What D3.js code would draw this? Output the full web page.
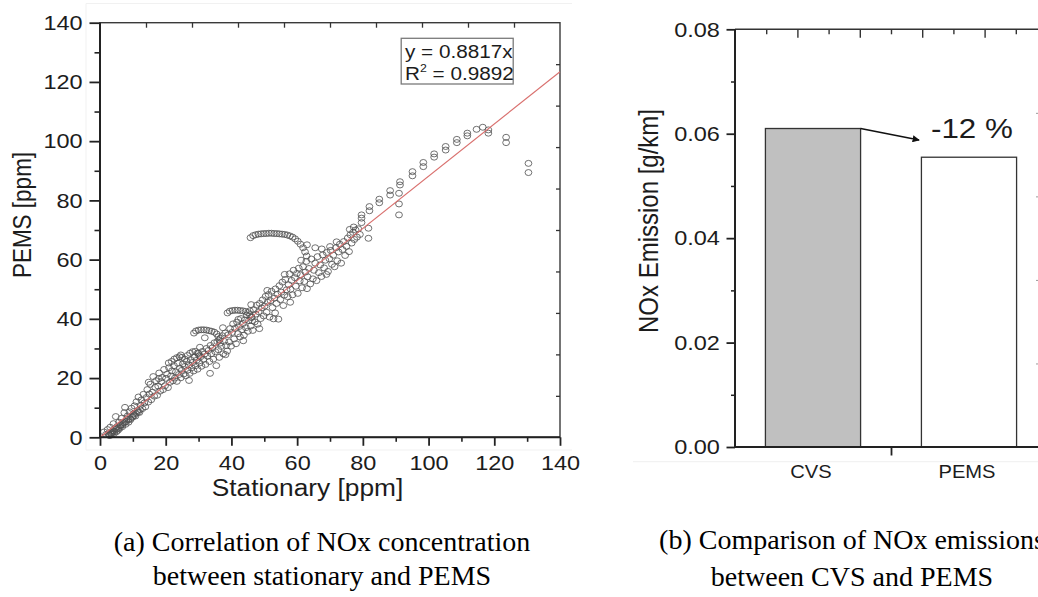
<!DOCTYPE html>
<html>
<head>
<meta charset="utf-8">
<script src="https://cdn.jsdelivr.net/npm/d3@7"></script>
<style>
  body { margin: 0; background: #fff; }
  svg { display: block; }
  text { font-family: "Liberation Sans", Arial, sans-serif; fill: #1c1c1c; }
  .cap { font-family: "Liberation Serif", "Times New Roman", serif; fill: #000; }
</style>
</head>
<body>
<svg id="fig" width="1038" height="597"></svg>
<script>
// ---------- panel (a): NOx concentration, stationary vs PEMS [ppm] ----------
const bandPoints = [
  [1.2,1.8],[1.8,0.9],[2.3,2.6],[2.6,1.2],[3.0,0.6],[3.1,3.4],[3.4,1.5],[3.6,0.9],[3.9,2.2],[4.1,4.6],
  [4.3,1.3],[4.6,2.9],[4.8,7.0],[5.0,1.9],[5.2,3.6],[5.5,2.4],[5.8,5.1],[6.0,3.0],[6.3,4.2],[6.5,6.4],
  [6.8,3.6],[7.1,5.0],[7.4,8.3],[7.6,10.1],[7.8,4.4],[8.1,6.0],[8.4,7.2],[8.7,5.1],[9.0,8.6],[9.3,6.0],
  [9.6,9.8],[9.9,6.8],[10.2,7.9],[10.5,10.6],[10.8,7.2],[11.1,12.0],[11.4,9.0],[11.7,13.6],[12.0,8.4],[12.3,10.8],
  [12.6,12.6],[12.9,9.7],[13.2,14.5],[13.5,11.6],[13.8,10.3],[14.1,13.4],[14.4,16.1],[14.7,11.9],[15.0,14.6],[15.3,17.9],
  [15.6,12.7],[15.9,15.2],[16.2,20.5],[16.5,13.9],[16.8,16.9],[17.1,19.1],[17.4,14.2],[17.7,17.3],[18.0,21.7],[18.3,15.6],
  [18.6,18.8],[18.9,20.2],[19.2,16.1],[19.5,22.9],[19.8,17.4],[20.1,19.9],[20.4,21.3],[20.7,16.8],[21.0,23.5],[21.3,18.6],
  [21.6,20.7],[21.9,22.4],[22.2,19.1],[22.5,24.2],[22.8,20.0],[23.1,22.1],[23.4,18.9],[23.7,25.0],[24.0,21.2],[24.3,23.3],
  [24.6,20.1],[24.9,22.6],[25.2,24.8],[25.5,21.4],[25.8,23.9],[26.1,20.8],[26.4,25.6],[26.7,22.7],[27.0,24.4],[27.3,21.6],
  [27.6,26.2],[27.9,23.5],[28.2,25.3],[28.5,22.4],[28.8,27.1],[29.1,24.2],[29.4,26.0],[29.7,23.0],[30.0,28.3],[30.3,25.1],
  [30.6,27.2],[30.9,24.0],[31.2,29.0],[31.5,26.3],[31.8,28.1],[32.1,24.6],[32.4,30.0],[32.7,27.4],[33.0,29.3],[33.3,25.6],
  [33.5,21.6],[33.6,31.0],[33.9,28.2],[34.2,30.2],[34.5,26.4],[34.8,31.9],[35.1,28.9],[35.4,24.2],[35.7,32.3],[36.0,29.6],
  [36.3,27.0],[36.6,33.4],[36.9,30.7],[37.2,34.3],[37.5,28.2],[37.8,32.4],[38.1,35.2],[38.4,31.0],[38.7,29.1],[39.0,34.6],
  [39.3,32.2],[39.6,36.7],[39.9,30.8],[40.2,35.4],[40.5,38.3],[40.8,33.2],[41.1,36.8],[41.4,31.6],[41.7,38.9],[42.0,35.0],
  [42.3,37.4],[42.6,33.9],[42.9,40.1],[43.2,36.3],[43.5,38.4],[43.8,34.5],[44.1,39.6],[44.4,37.0],[44.7,41.3],[45.0,35.8],
  [45.3,39.4],[45.6,42.7],[45.9,37.6],[46.2,40.5],[46.5,36.1],[46.8,43.1],[47.1,39.0],[47.4,41.6],[47.7,44.6],[48.0,38.2],
  [48.3,42.4],[48.6,45.2],[48.9,40.1],[49.2,43.7],[49.5,46.4],[49.8,41.0],[50.1,44.3],[50.4,47.6],[50.7,42.2],[51.0,45.6],
  [51.3,48.2],[51.6,40.6],[51.9,46.1],[52.2,49.3],[52.5,43.8],[52.8,40.0],[53.1,47.0],[53.4,50.1],[53.7,45.2],[54.0,48.3],
  [54.3,39.9],[54.6,51.2],[54.9,46.5],[55.2,49.0],[55.5,52.4],[55.8,44.5],[56.1,48.0],[56.4,53.3],[56.8,49.8],[57.1,47.5],
  [57.4,51.5],[57.7,55.2],[58.0,50.0],[58.3,53.0],[58.6,48.1],[58.9,56.4],[59.3,53.9],[59.6,51.0],[59.9,55.3],[60.2,48.6],
  [60.5,57.1],[60.8,52.8],[61.1,54.9],[61.5,50.5],[61.8,57.6],[62.2,52.6],[62.5,55.8],[62.8,59.4],[63.2,54.2],[63.6,57.0],
  [64.0,51.8],[64.3,60.2],[64.8,53.5],[65.1,56.4],[65.5,58.8],[65.9,52.9],[66.2,61.0],[66.6,55.6],[67.0,58.2],[67.4,54.3],
  [67.8,61.6],[68.2,57.2],[68.6,59.8],[69.0,62.4],[69.4,56.0],[69.8,60.3],[70.2,63.1],[70.6,58.4],[71.0,61.5],[71.4,57.6],
  [71.8,64.0],[72.2,59.6],[72.6,62.6],[73.0,65.2],[73.4,58.8],[73.8,63.4],[74.2,66.1],[74.6,61.4],[75.0,64.5],[75.4,67.3],
  [75.8,62.7],[76.2,68.4],[76.6,65.6],[77.0,69.2],[77.4,66.8],[77.8,70.0],[78.2,67.6],[76.0,70.2],[77.2,71.0],[78.6,70.4],
  [79.1,68.5],
  [14.8,18.6],[17.9,19.8],[20.9,25.1],[24.6,27.8],[31.9,33.6],[37.4,37.0],[42.1,39.8],[46.0,44.8],[50.9,49.6],[56.2,55.0],
  [61.2,59.8],[27.1,19.2],[38.2,27.9],[43.6,32.6],[48.5,36.7],[53.3,42.0],[57.9,45.6],[63.0,50.2],[68.9,55.0],[30.4,30.4]
];
// dense run just under the fit line near the origin
const trailPoints = [
  [2.8,0.7],[3.3,1.1],[3.8,1.7],[4.4,2.0],[5.0,2.8],[5.6,3.1],[6.2,3.9],[6.8,4.2],[7.4,4.9],[8.0,5.3],
  [8.6,6.0],[9.2,6.3],[9.8,7.1],[10.4,7.4],[11.0,8.1],[11.6,8.5],[12.2,9.3]
];
const loop27 = [
  [21.8,25.6],[22.6,26.4],[23.4,26.9],[24.2,27.2],[25.0,27.0],[25.8,26.4],[26.6,27.6],[27.4,28.4],[28.2,28.9],[29.0,29.0],[29.7,28.4],[30.2,27.5]
];
const loop36 = [
  [28.6,35.2],[29.2,35.9],[30.0,36.2],[30.8,36.3],[31.6,36.3],[32.4,36.2],[33.2,36.0],[34.0,35.8],[34.8,35.5],[35.5,34.9],[36.0,34.0],[36.3,32.9],[36.5,31.8]
];
const loop43 = [
  [38.8,42.0],[39.5,42.6],[40.3,42.8],[41.1,42.9],[41.9,42.9],[42.7,42.8],[43.5,42.7],[44.3,42.5],[45.0,42.1],[45.6,41.4],[46.0,40.5],[46.3,39.4]
];
const loop68 = [
  [45.8,67.4],[46.6,68.1],[47.4,68.4],[48.2,68.6],[49.0,68.7],[49.8,68.8],[50.6,68.8],[51.4,68.9],[52.2,68.9],[53.0,68.8],
  [53.8,68.8],[54.6,68.7],[55.4,68.6],[56.2,68.5],[57.0,68.3],[57.8,68.0],[58.6,67.6],[59.4,67.0],[60.2,66.2],[61.0,65.2],
  [61.8,64.0],[62.4,62.6],[62.9,61.2],[63.0,65.0],[65.5,64.0],[67.5,63.6],[70.0,64.4],[72.0,66.0]
];
const tailPoints = [
  [79.6,75.1],[79.6,74.0],[79.6,72.5],[81.7,70.6],[81.7,67.2],[82.0,77.9],[82.0,76.5],[85.0,80.4],[85.0,79.2],
  [88.3,83.3],[88.3,81.8],[91.3,86.3],[91.3,85.2],[91.0,82.4],[91.0,78.8],[91.0,75.1],[95.1,89.7],[95.1,88.3],
  [98.4,92.8],[98.4,91.4],[101.7,95.7],[101.7,94.6],[105.2,98.2],[105.2,97.0],[108.6,100.6],[108.6,99.5],
  [111.8,102.7],[111.8,101.8],[114.6,104.0],[116.5,104.7],[118.2,103.8],[118.2,102.7],[123.6,101.3],[123.6,99.5],
  [130.4,92.5],[130.4,89.4]
];
const fitSlope = 0.8817;
const fitR2 = 0.9892;
const axisTicksA = [0, 20, 40, 60, 80, 100, 120, 140];
const minorTicksA = [10, 30, 50, 70, 90, 110, 130];
const frameTicksA = [14, 28, 42, 56, 70, 84, 98, 112, 126];

// ---------- panel (b): NOx emission per km ----------
const categories = ["CVS", "PEMS"];
const emission = [0.061, 0.0555];
const barFills = ["#c0c0c0", "#ffffff"];
const axisTicksB = [0, 0.02, 0.04, 0.06, 0.08];
const minorTicksB = [0.01, 0.03, 0.05, 0.07];
const topMajorB = [0.9, 1.3, 1.7, 2.1, 2.5];
const topMinorB = [0.7, 1.1, 1.5, 1.9, 2.3];
const rightTicksB = [0.016, 0.032, 0.048, 0.064];
const changeLabel = "-12 %";

const SX = 1.12; // glyphs in the figure are slightly wide
const svg = d3.select("#fig");

// faint panel borders
svg.append("path").attr("d", "M86,3.5H572M86,3.5V450H572").attr("fill", "none").attr("stroke", "#f1f1f1");
svg.append("path").attr("d", "M633,461.7H1038").attr("fill", "none").attr("stroke", "#efefef");

function styleAxis(g, color, width) {
  g.select(".domain").remove();
  g.selectAll(".tick line").attr("stroke", color).attr("stroke-width", width);
  g.selectAll(".tick text").attr("transform", `scale(${SX},1)`);
}

// ===== panel (a) =====
const xA = d3.scaleLinear().domain([0, 140]).range([100, 560]);
const yA = d3.scaleLinear().domain([0, 140]).range([437.3, 22.7]);
const gA = svg.append("g");

// frame
gA.append("rect").attr("x", xA(0)).attr("y", yA(140)).attr("width", xA(140) - xA(0)).attr("height", yA(0) - yA(140))
  .attr("fill", "none").attr("stroke", "#3a3a3a").attr("stroke-width", 1.4);

// top and right inward ticks
gA.append("g").attr("transform", `translate(0,${yA(140)})`)
  .call(d3.axisTop(xA).tickValues(frameTicksA).tickSize(-5).tickFormat(""))
  .call(g => styleAxis(g, "#333", 1.3));
gA.append("g").attr("transform", `translate(${xA(140)},0)`)
  .call(d3.axisRight(yA).tickValues(frameTicksA).tickSize(-4).tickFormat(""))
  .call(g => styleAxis(g, "#333", 1.3));

// scatter
const allPoints = [].concat(bandPoints, trailPoints, loop27, loop36, loop43, loop68, tailPoints);
gA.append("g").selectAll("ellipse").data(allPoints).join("ellipse")
  .attr("cx", d => xA(d[0])).attr("cy", d => yA(d[1]))
  .attr("rx", 3.4).attr("ry", 3.0)
  .attr("fill", "none").attr("stroke", "#505050").attr("stroke-width", 0.9).attr("stroke-opacity", 0.9);

// fitted line
const fitX = [0, 140];
gA.append("path")
  .attr("d", d3.line().x(d => xA(d)).y(d => yA(fitSlope * d))(fitX))
  .attr("stroke", "#d9706e").attr("stroke-width", 1.1).attr("fill", "none");

// main axes
gA.append("g").attr("transform", `translate(0,${yA(0)})`)
  .call(d3.axisBottom(xA).tickValues(minorTicksA).tickSize(4.5).tickFormat(""))
  .call(g => styleAxis(g, "#222", 1.6));
gA.append("g").attr("transform", `translate(0,${yA(0)})`)
  .call(d3.axisBottom(xA).tickValues(axisTicksA).tickSize(8.5).tickPadding(9.5).tickFormat(d3.format("d")))
  .call(g => styleAxis(g, "#222", 1.8))
  .call(g => g.selectAll("text").attr("font-size", 21).attr("fill", "#1c1c1c"));
gA.append("g").attr("transform", `translate(${xA(0)},0)`)
  .call(d3.axisLeft(yA).tickValues(minorTicksA).tickSize(5.5).tickFormat(""))
  .call(g => styleAxis(g, "#222", 1.6));
gA.append("g").attr("transform", `translate(${xA(0)},0)`)
  .call(d3.axisLeft(yA).tickValues(axisTicksA).tickSize(10.5).tickPadding(5).tickFormat(d3.format("d")))
  .call(g => styleAxis(g, "#222", 1.8))
  .call(g => g.selectAll("text").attr("font-size", 21).attr("fill", "#1c1c1c"));
gA.append("line").attr("x1", xA(0)).attr("x2", xA(140)).attr("y1", yA(0)).attr("y2", yA(0)).attr("stroke", "#222").attr("stroke-width", 2);
gA.append("line").attr("x1", xA(0)).attr("x2", xA(0)).attr("y1", yA(0)).attr("y2", yA(140)).attr("stroke", "#222").attr("stroke-width", 2);

// axis titles
gA.append("text").attr("transform", `translate(307.5,496) scale(${SX},1)`).attr("text-anchor", "middle")
  .attr("font-size", 23.5).text("Stationary [ppm]");
gA.append("text").attr("transform", `translate(30.5,215) scale(${SX},1) rotate(-90)`).attr("text-anchor", "middle")
  .attr("font-size", 22.5).text("PEMS [ppm]");

// regression box
const legA = gA.append("g");
legA.append("rect").attr("x", 401.2).attr("y", 38.3).attr("width", 112).attr("height", 45.7)
  .attr("fill", "#fff").attr("stroke", "#7a7a7a").attr("stroke-width", 1.3);
legA.append("text").attr("transform", `translate(405,57.5) scale(${SX},1)`).attr("font-size", 18.5)
  .text(`y = ${fitSlope}x`);
const r2 = legA.append("text").attr("transform", `translate(405,79.5) scale(${SX},1)`).attr("font-size", 18.5);
r2.append("tspan").text("R");
r2.append("tspan").attr("font-size", 11).attr("dy", -8).text("2");
r2.append("tspan").attr("dy", 8).text(` = ${fitR2}`);

// ===== panel (b) =====
const xB = d3.scaleLinear().domain([0.5, 2.5]).range([735, 1047]);
const yB = d3.scaleLinear().domain([0, 0.08]).range([447, 29.3]);
const gB = svg.append("g");
const barW = 0.61;

// top frame with inward ticks
gB.append("line").attr("x1", xB(0.5)).attr("x2", xB(2.5)).attr("y1", yB(0.08)).attr("y2", yB(0.08))
  .attr("stroke", "#333").attr("stroke-width", 1.5);
gB.append("g").attr("transform", `translate(0,${yB(0.08)})`)
  .call(d3.axisTop(xB).tickValues(topMajorB).tickSize(-8.5).tickFormat(""))
  .call(g => styleAxis(g, "#333", 1.4));
gB.append("g").attr("transform", `translate(0,${yB(0.08)})`)
  .call(d3.axisTop(xB).tickValues(topMinorB).tickSize(-5).tickFormat(""))
  .call(g => styleAxis(g, "#333", 1.4));
// right frame (ticks just reach into view)
gB.append("g").attr("transform", `translate(${xB(2.5)},0)`)
  .call(d3.axisRight(yB).tickValues(rightTicksB).tickSize(-11).tickFormat(""))
  .call(g => styleAxis(g, "#9a9a9a", 1));

// bars
gB.append("g").selectAll("rect").data(categories).join("rect")
  .attr("x", (d, i) => xB(i + 1 - barW / 2))
  .attr("width", (d, i) => xB(i + 1 + barW / 2) - xB(i + 1 - barW / 2))
  .attr("y", (d, i) => yB(emission[i]))
  .attr("height", (d, i) => yB(0) - yB(emission[i]))
  .attr("fill", (d, i) => barFills[i])
  .attr("stroke", "#333").attr("stroke-width", 1.3);

// change arrow and label
svg.append("defs").append("marker").attr("id", "head").attr("viewBox", "0 0 10 10")
  .attr("refX", 9).attr("refY", 5).attr("markerWidth", 4.5).attr("markerHeight", 4.5)
  .attr("orient", "auto").append("path").attr("d", "M0,0L10,5L0,10z").attr("fill", "#111");
gB.append("line")
  .attr("x1", xB(1 + barW / 2)).attr("y1", yB(emission[0]))
  .attr("x2", xB(1.68)).attr("y2", yB(0.0588))
  .attr("stroke", "#111").attr("stroke-width", 1.6).attr("marker-end", "url(#head)");
gB.append("text").attr("transform", `translate(${xB(1.756)},138.3) scale(${SX},1)`)
  .attr("font-size", 28).attr("fill", "#111").text(changeLabel);

// left axis
gB.append("g").attr("transform", `translate(${xB(0.5)},0)`)
  .call(d3.axisLeft(yB).tickValues(minorTicksB).tickSize(4).tickFormat(""))
  .call(g => styleAxis(g, "#222", 1.5));
gB.append("g").attr("transform", `translate(${xB(0.5)},0)`)
  .call(d3.axisLeft(yB).tickValues(axisTicksB).tickSize(8.5).tickPadding(5).tickFormat(d3.format(".2f")))
  .call(g => styleAxis(g, "#222", 1.8))
  .call(g => g.selectAll("text").attr("font-size", 21).attr("fill", "#1c1c1c"));
// bottom axis: one separator tick between the categories
gB.append("g").attr("transform", `translate(0,${yB(0)})`)
  .call(d3.axisBottom(xB).tickValues([1.5]).tickSize(8.5).tickFormat(""))
  .call(g => styleAxis(g, "#222", 1.8));
gB.append("line").attr("x1", xB(0.5)).attr("x2", xB(2.5)).attr("y1", yB(0)).attr("y2", yB(0)).attr("stroke", "#222").attr("stroke-width", 2);
gB.append("line").attr("x1", xB(0.5)).attr("x2", xB(0.5)).attr("y1", yB(0)).attr("y2", yB(0.08)).attr("stroke", "#222").attr("stroke-width", 2);

gB.append("g").selectAll("text").data(categories).join("text")
  .attr("transform", (d, i) => `translate(${xB(i + 1) - 2},478) scale(${SX},1)`)
  .attr("text-anchor", "middle").attr("font-size", 18).text(d => d);

gB.append("text").attr("transform", `translate(657.5,221) scale(${SX},1) rotate(-90)`).attr("text-anchor", "middle")
  .attr("font-size", 24).text("NOx Emission [g/km]");

// ===== captions =====
const captions = [
  { x: 322, y: 551, t: "(a) Correlation of NOx concentration" },
  { x: 322, y: 585, t: "between stationary and PEMS" },
  { x: 852, y: 549, t: "(b) Comparison of NOx emissions" },
  { x: 852, y: 586, t: "between CVS and PEMS" }
];
svg.append("g").selectAll("text").data(captions).join("text")
  .attr("class", "cap").attr("x", d => d.x).attr("y", d => d.y)
  .attr("text-anchor", "middle").attr("font-size", 28).text(d => d.t);
</script>
</body>
</html>
